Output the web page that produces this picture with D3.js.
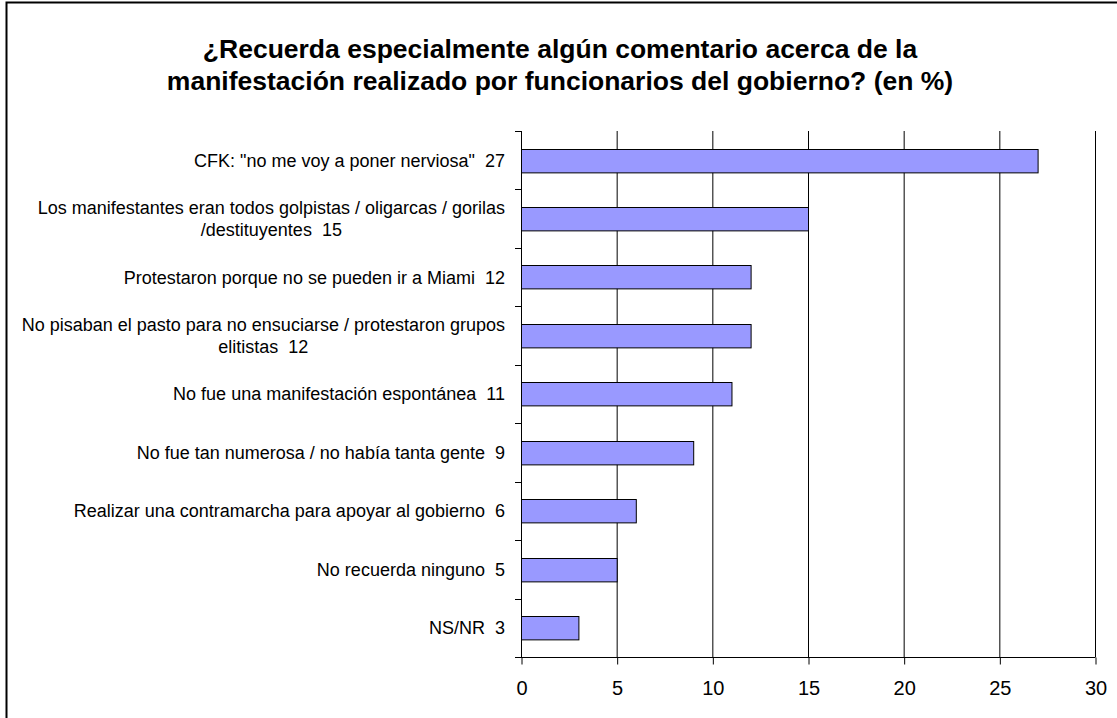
<!DOCTYPE html>
<html>
<head>
<meta charset="utf-8">
<script src="https://cdnjs.cloudflare.com/ajax/libs/d3/7.8.5/d3.min.js"></script>
<style>
  html, body { margin: 0; padding: 0; background: #fff; }
  svg { display: block; }
  text { font-family: "Liberation Sans", Arial, sans-serif; fill: #000; }
</style>
</head>
<body>
<svg id="chart" width="1117" height="718"></svg>
<script>
const titleLines = [
  "¿Recuerda especialmente algún comentario acerca de la",
  "manifestación realizado por funcionarios del gobierno? (en %)"
];
const categories = [
  'CFK: "no me voy a poner nerviosa"',
  "Los manifestantes eran todos golpistas / oligarcas / gorilas /destituyentes",
  "Protestaron porque no se pueden ir a Miami",
  "No pisaban el pasto para no ensuciarse / protestaron grupos elitistas",
  "No fue una manifestación espontánea",
  "No fue tan numerosa / no había tanta gente",
  "Realizar una contramarcha para apoyar al gobierno",
  "No recuerda ninguno",
  "NS/NR"
];
const values = [27, 15, 12, 12, 11, 9, 6, 5, 3];
const xTicks = [0, 5, 10, 15, 20, 25, 30];

const svg = d3.select("#chart");
const plot = { left: 521, right: 1095, top: 131, bottom: 657 };

// outer border
svg.append("rect")
  .attr("x", 6.5).attr("y", 2.5)
  .attr("width", 1130).attr("height", 740)
  .attr("fill", "none").attr("stroke", "#000").attr("stroke-width", 2);

// title
svg.append("g").selectAll("text").data(titleLines).join("text")
  .attr("x", 560)
  .attr("y", (d, i) => 58 + i * 32)
  .attr("text-anchor", "middle")
  .attr("font-size", 26.5)
  .attr("font-weight", "bold")
  .text(d => d);

const x = d3.scaleLinear().domain([0, 30]).range([plot.left, plot.right]);
const y = d3.scaleBand().domain(categories).range([plot.top, plot.bottom])
  .paddingInner(0.6).paddingOuter(0.3);
const step = y.step();

// gridlines
svg.append("g").selectAll("line").data(xTicks.filter(t => t > 0)).join("line")
  .attr("x1", d => x(d) + 0.5).attr("x2", d => x(d) + 0.5)
  .attr("y1", plot.top).attr("y2", plot.bottom)
  .attr("stroke", "#000").attr("stroke-width", 1);

// bars
svg.append("g").selectAll("rect").data(categories).join("rect")
  .attr("x", x(0) + 0.5)
  .attr("y", d => Math.round(y(d)) + 0.5)
  .attr("width", (d, i) => x(values[i]) - x(0))
  .attr("height", y.bandwidth())
  .attr("fill", "#9999FF")
  .attr("stroke", "#000").attr("stroke-width", 1);

// x axis
const xAxis = d3.axisBottom(x).tickValues(xTicks).tickSize(7).tickPadding(16)
  .tickFormat(d3.format("d"));
const gx = svg.append("g").attr("transform", `translate(0.5,${plot.bottom + 0.5})`).call(xAxis);
gx.select(".domain").attr("d", `M${plot.left - 6},0H${plot.right}`).attr("stroke", "#000");
gx.selectAll(".tick line").attr("stroke", "#000");
gx.selectAll(".tick text").attr("font-size", 20).attr("font-family", '"Liberation Sans", Arial, sans-serif').attr("fill", "#000");

// y axis line and ticks at band boundaries
const gy = svg.append("g");
gy.append("line")
  .attr("x1", plot.left + 0.5).attr("x2", plot.left + 0.5)
  .attr("y1", plot.top).attr("y2", plot.bottom)
  .attr("stroke", "#000");
const boundaries = categories.map(c => y(c) - y.paddingOuter() * step).concat([plot.bottom]);
gy.selectAll("line.tk").data(boundaries).join("line").attr("class", "tk")
  .attr("x1", plot.left - 6).attr("x2", plot.left)
  .attr("y1", d => Math.round(d) + 0.5).attr("y2", d => Math.round(d) + 0.5)
  .attr("stroke", "#000");

// category labels with wrapping (centered lines, block right-aligned)
const labelRight = 505;
const maxW = 500;
const fs = 18;
const lineH = 21.5;
const lg = svg.append("g");
categories.forEach((c, i) => {
  const full = c + "\u00A0\u00A0" + values[i];
  const words = full.split(" ");
  const meas = lg.append("text").attr("font-size", fs);
  const lines = [];
  let cur = "";
  words.forEach(w => {
    const test = cur ? cur + " " + w : w;
    meas.text(test);
    if (meas.node().getComputedTextLength() > maxW && cur) {
      lines.push(cur);
      cur = w;
    } else cur = test;
  });
  lines.push(cur);
  const widths = lines.map(l => { meas.text(l); return meas.node().getComputedTextLength(); });
  meas.remove();
  const blockW = d3.max(widths);
  const cy = y(c) + y.bandwidth() / 2;
  const cx = labelRight - blockW / 2;
  lines.forEach((l, j) => {
    lg.append("text")
      .attr("x", lines.length > 1 ? cx : labelRight)
      .attr("y", cy + (j - (lines.length - 1) / 2) * lineH + fs * 0.36)
      .attr("text-anchor", lines.length > 1 ? "middle" : "end")
      .attr("font-size", fs)
      .text(l);
  });
});
</script>
</body>
</html>
